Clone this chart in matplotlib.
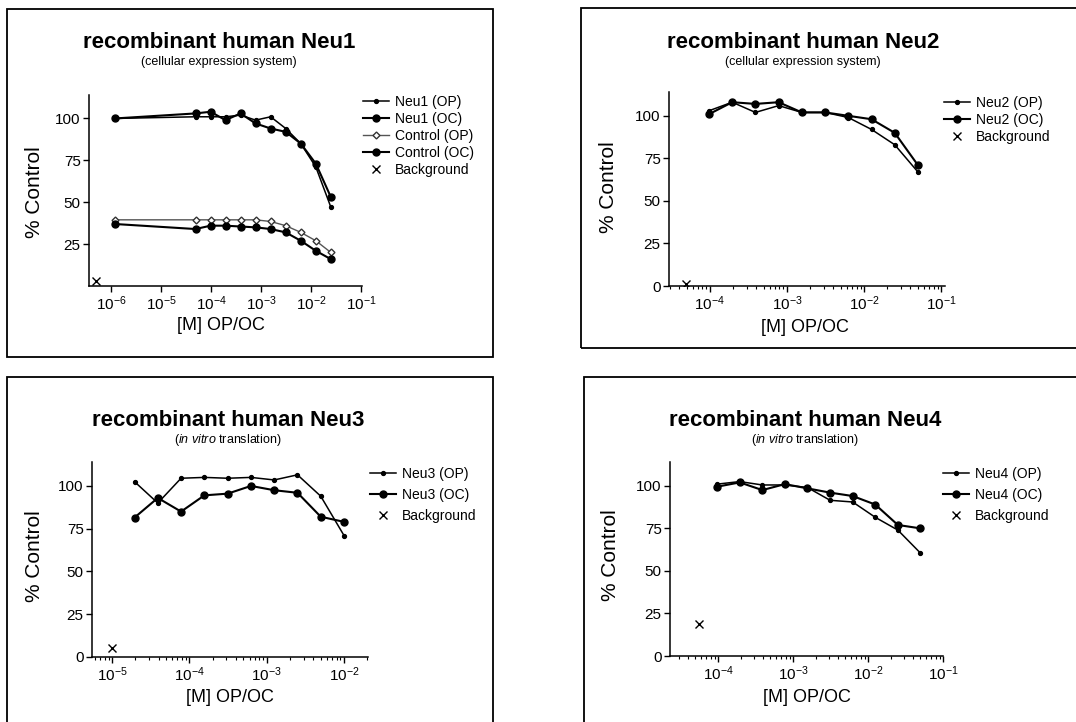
import numpy as np
import matplotlib
matplotlib.use("Agg")
import matplotlib.pyplot as plt
from matplotlib.patches import Rectangle
from matplotlib.ticker import LogLocator, NullFormatter

plt.rcParams['font.family'] = ['Liberation Sans', 'DejaVu Sans']
plt.rcParams['mathtext.fontset'] = 'custom'
plt.rcParams['mathtext.rm'] = 'Liberation Sans'
plt.rcParams['mathtext.it'] = 'Liberation Sans:italic'
plt.rcParams['mathtext.bf'] = 'Liberation Sans:bold'

# =========================
# data
# =========================
conc_neu1 = [1.2e-6, 4.9e-5, 9.8e-5, 1.95e-4, 3.9e-4, 7.8e-4, 1.56e-3, 3.125e-3, 6.25e-3, 1.25e-2, 2.5e-2]
neu1_op = [100, 101, 101, 101, 102, 99, 101, 94, 85, 71, 47]
neu1_oc = [100, 103, 104, 99, 103, 97, 94, 92, 85, 73, 53]
ctrl_op = [39.5, 39.5, 39.5, 39.5, 39.5, 39.5, 38.5, 36, 32, 27, 20]
ctrl_oc = [37, 34, 36, 36, 35.5, 35, 34, 32, 27, 21, 16]
bg1_x, bg1_y = [5e-7], [3]

conc_neu2 = [9.77e-5, 1.95e-4, 3.9e-4, 7.8e-4, 1.56e-3, 3.125e-3, 6.25e-3, 1.25e-2, 2.5e-2, 5e-2]
neu2_op = [103, 108, 102, 106, 102, 102, 99, 92, 83, 67]
neu2_oc = [101, 108, 107, 108, 102, 102, 100, 98, 90, 71]
bg2_x, bg2_y = [4.9e-5], [1]

conc_neu3 = [1.95e-5, 3.9e-5, 7.8e-5, 1.56e-4, 3.125e-4, 6.25e-4, 1.25e-3, 2.5e-3, 5e-3, 1e-2]
neu3_op = [102.5, 90, 104.5, 105, 104.5, 105, 103.5, 106.5, 94, 71]
neu3_oc = [81.5, 93, 85, 94.5, 95.5, 100, 97.5, 96, 82, 79]
bg3_x, bg3_y = [1e-5], [5]

conc_neu4 = [9.77e-5, 1.95e-4, 3.9e-4, 7.8e-4, 1.56e-3, 3.125e-3, 6.25e-3, 1.25e-2, 2.5e-2, 5e-2]
neu4_op = [101, 102.5, 100.5, 100.5, 99, 91.5, 90.5, 81.5, 74, 60.5]
neu4_oc = [99.5, 102, 97.5, 101, 98.5, 96, 94, 89, 77, 75]
bg4_x, bg4_y = [5.6e-5], [19]

W, H = 1076, 722
fig = plt.figure(figsize=(W / 100, H / 100), dpi=100)


def fx(px):
    return px / W


def fy(py):
    return 1 - py / H


def make_axes(l, t, r, b, xlim, decades, yticks):
    ax = fig.add_axes([fx(l), fy(b), fx(r - l), (b - t) / H])
    ax.set_xscale('log')
    ax.set_xlim(10 ** xlim[0], 10 ** xlim[1])
    ax.set_ylim(0, 114)
    for s in ['top', 'right']:
        ax.spines[s].set_visible(False)
    for s in ['left', 'bottom']:
        ax.spines[s].set_linewidth(1.1)
    ax.set_xticks([10.0 ** d for d in decades])
    ax.set_xticklabels([rf'$10^{{{d}}}$' for d in decades])
    ax.xaxis.set_minor_locator(LogLocator(base=10, subs=np.arange(2, 10)))
    ax.xaxis.set_minor_formatter(NullFormatter())
    ax.set_yticks(yticks)
    ax.set_yticklabels([str(v) for v in yticks])
    ax.tick_params(axis='both', which='major', direction='out', length=4, width=1, labelsize=11)
    ax.tick_params(axis='x', which='major', pad=2)
    ax.tick_params(axis='y', which='major', pad=2)
    ax.tick_params(axis='x', which='minor', direction='out', length=2, width=0.8)
    ax.patch.set_alpha(0)
    return ax


def box(l, t, r, b):
    fig.patches.append(Rectangle((fx(l), fy(b)), fx(r - l), (b - t) / H,
                                 transform=fig.transFigure, fill=False,
                                 edgecolor='black', linewidth=1.3))


def headings(cx, ty, title, sub, ylab_x, ylab_y, xlab_y):
    fig.text(fx(cx), fy(ty), title, ha='center', va='center', fontsize=16, fontweight='bold')
    fig.text(fx(cx), fy(ty + 20), sub, ha='center', va='center', fontsize=9)
    fig.text(fx(ylab_x), fy(ylab_y), '% Control', rotation=90, ha='center', va='center', fontsize=15)
    fig.text(fx(cx + 2), fy(xlab_y), '[M] OP/OC', ha='center', va='center', fontsize=13)


def legend(ax, x, y, spacing):
    ax.legend(loc='upper left', bbox_to_anchor=(fx(x), fy(y)), bbox_transform=fig.transFigure,
              frameon=False, fontsize=10, handlelength=1.9, handletextpad=0.4,
              labelspacing=spacing, borderpad=0, borderaxespad=0)


op_style = dict(color='black', lw=1.1, marker='o', ms=2.8)
oc_style = dict(color='black', lw=1.5, marker='o', ms=5)
bg_style = dict(color='black', ls='none', marker='x', ms=5.5, mew=1)

# =========================
# Neu1
# =========================
box(7, 9, 493, 357)
ax1 = make_axes(89, 95, 362, 286, (-6.44, -0.98), [-6, -5, -4, -3, -2, -1], [25, 50, 75, 100])
ax1.plot(conc_neu1, neu1_op, label='Neu1 (OP)', **op_style)
ax1.plot(conc_neu1, neu1_oc, label='Neu1 (OC)', **oc_style)
ax1.plot(conc_neu1, ctrl_op, label='Control (OP)', color='#555555', lw=1.0, marker='D', ms=3.5,
         mfc='white', mec='#333333')
ax1.plot(conc_neu1, ctrl_oc, label='Control (OC)', **oc_style)
ax1.plot(bg1_x, bg1_y, label='Background', **bg_style)
legend(ax1, 363, 95, 0.22)
headings(219, 42, 'recombinant human Neu1', '(cellular expression system)', 35, 192, 325)

# =========================
# Neu2
# =========================
box(581, 8, 1090, 348)
ax2 = make_axes(669, 92, 945, 286, (-4.53, -0.95), [-4, -3, -2, -1], [0, 25, 50, 75, 100])
ax2.plot(conc_neu2, neu2_op, label='Neu2 (OP)', **op_style)
ax2.plot(conc_neu2, neu2_oc, label='Neu2 (OC)', **oc_style)
ax2.plot(bg2_x, bg2_y, label='Background', **bg_style)
legend(ax2, 944, 96, 0.22)
headings(803, 42, 'recombinant human Neu2', '(cellular expression system)', 609, 187, 327)

# =========================
# Neu3
# =========================
box(7, 377, 493, 740)
ax3 = make_axes(92, 462, 368, 657, (-5.26, -1.69), [-5, -4, -3, -2], [0, 25, 50, 75, 100])
ax3.plot(conc_neu3, neu3_op, label='Neu3 (OP)', **op_style)
ax3.plot(conc_neu3, neu3_oc, label='Neu3 (OC)', **oc_style)
ax3.plot(bg3_x, bg3_y, label='Background', **bg_style)
legend(ax3, 370, 467, 0.5)
headings(228, 420, 'recombinant human Neu3', r'($\it{in\ vitro}$ translation)', 35, 556, 698)

# =========================
# Neu4
# =========================
box(584, 377, 1090, 740)
ax4 = make_axes(670, 462, 943, 656, (-4.64, -1.0), [-4, -3, -2, -1], [0, 25, 50, 75, 100])
ax4.plot(conc_neu4, neu4_op, label='Neu4 (OP)', **op_style)
ax4.plot(conc_neu4, neu4_oc, label='Neu4 (OC)', **oc_style)
ax4.plot(bg4_x, bg4_y, label='Background', **bg_style)
legend(ax4, 943, 467, 0.5)
headings(805, 420, 'recombinant human Neu4', r'($\it{in\ vitro}$ translation)', 611, 555, 698)

fig.savefig('out.png', dpi=100)
